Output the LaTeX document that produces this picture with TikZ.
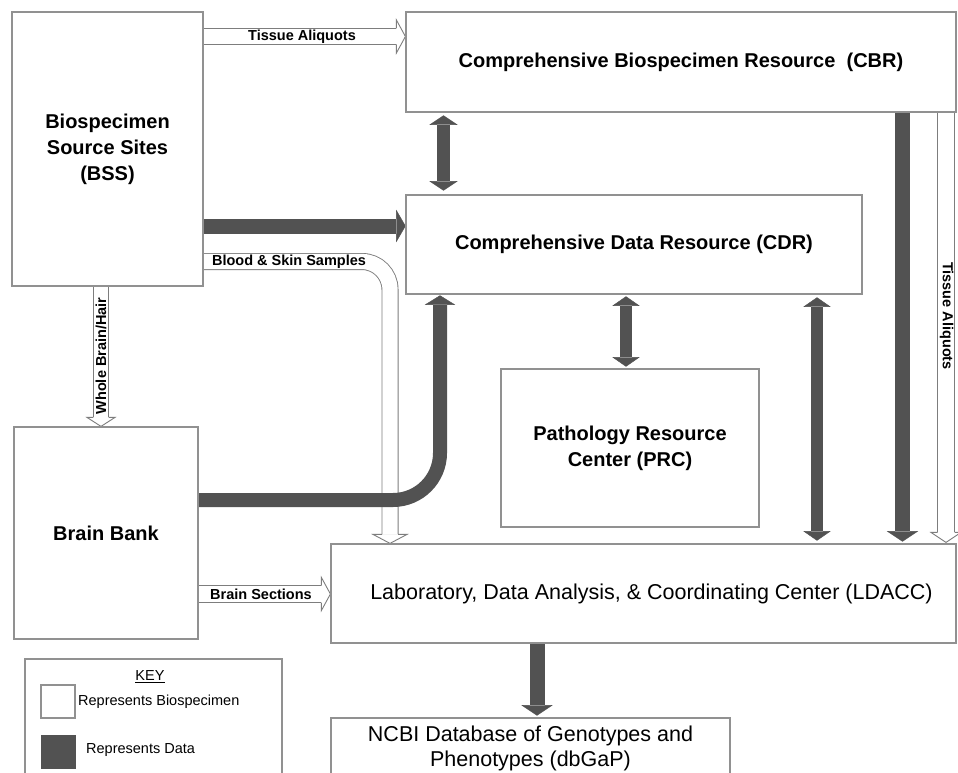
\documentclass[tikz,border=0pt]{standalone}
\usepackage{fontspec}
\setmainfont{Liberation Sans}
\usetikzlibrary{calc}
\pgfdeclarelayer{bg}
\pgfsetlayers{bg,main}
\definecolor{darkc}{RGB}{82,82,82}
\definecolor{boxc}{RGB}{145,145,145}
\definecolor{hollc}{RGB}{125,125,125}
% tip, rotation, style, half shaft, half head, head length
\newcommand\arrhead[6]{\filldraw[#3,shift={(#1)},rotate=#2] (-#6,#4) -- (-#6,#5) -- (0,0) -- (-#6,-#5) -- (-#6,-#4);}
\tikzset{
 box/.style={draw=boxc,line width=1.2pt,fill=white,inner sep=0pt,align=center},
 bigb/.style={font=\fontsize{20}{26}\selectfont\bfseries},
 bigr/.style={font=\fontsize{21.5}{25}\selectfont},
 lab/.style={font=\fontsize{14.5}{16}\selectfont\bfseries,inner sep=0pt},
 keytxt/.style={font=\fontsize{14.5}{16}\selectfont,inner sep=0pt},
 hshaft/.style={draw=hollc,line width=0.9pt,double=white},
 hollowhead/.style={draw=hollc,fill=white,line width=0.9pt,line join=miter},
 dshaft/.style={draw=darkc},
 darkhead/.style={draw=darkc,fill=darkc,line width=0.4pt},
}
\begin{document}
\begin{tikzpicture}[x=1pt,y=-1pt]
\begin{pgfonlayer}{bg}
\fill[white] (0,0) rectangle (958,773);
\end{pgfonlayer}
\path[use as bounding box] (0,0) rectangle (958,773);
\clip (0,0) rectangle (958,773);

% boxes
\node[box,bigb,minimum width=191pt,minimum height=274pt] (bss) at (107.5,149) {Biospecimen\\Source Sites\\(BSS)};
\node[box,bigb,minimum width=550pt,minimum height=100pt] (cbr) at (681,62) {Comprehensive Biospecimen Resource\ \ (CBR)};
\node[box,bigb,minimum width=456pt,minimum height=99pt] (cdr) at (634,244.5) {Comprehensive Data Resource (CDR)};
\node[box,bigb,minimum width=258pt,minimum height=158pt] (prc) at (630,448) {Pathology Resource\\Center (PRC)};
\node[box,bigb,minimum width=184pt,minimum height=212pt] (bb) at (106,533) {Brain Bank};
\node[box,bigr,minimum width=625pt,minimum height=99pt] (ldacc) at (643.5,593.5) {\hspace*{16pt}Laboratory, Data Analysis, \& Coordinating Center (LDACC)};
\node[box,bigr,minimum width=399pt,minimum height=60pt] (db) at (530.5,748) {NCBI Database of Genotypes and\\Phenotypes (dbGaP)};
\node[box,minimum width=257pt,minimum height=120pt] (key) at (153.5,719) {};

% key contents
\node[keytxt] (keyt) at (150,677) {\underline{KEY}};
\node[draw=boxc,line width=1.2pt,fill=white,minimum width=34pt,minimum height=33pt,inner sep=0pt] (keyw) at (58,701.5) {};
\node[draw=darkc,fill=darkc,minimum width=34pt,minimum height=33pt,inner sep=0pt] (keyd) at (58,751.5) {};
\node[keytxt,anchor=west] (keywt) at (78,702) {Represents Biospecimen};
\node[keytxt,anchor=west] (keydt) at (86,750) {Represents Data};

% lane coordinates
\coordinate (ta) at (0,36.5);
\coordinate (dk) at (0,226);
\coordinate (bs) at (0,261.5);
\coordinate (bsx) at (390,0);
\coordinate (wb) at (101,0);
\coordinate (bsec) at (0,594);
\coordinate (bby) at (0,500);
\coordinate (bbx) at (440,0);
\coordinate (c1) at (443.5,0);
\coordinate (c2) at (626,0);
\coordinate (c3) at (817,0);
\coordinate (c4) at (902.5,0);
\coordinate (tar) at (946,0);
\coordinate (c5) at (537,0);

\begin{pgfonlayer}{bg}
% hollow (biospecimen) arrows
\draw[hshaft,double distance=15.2pt] (bss.east |- ta) -- ($(cbr.west |- ta)+(-9,0)$);
\arrhead{cbr.west |- ta}{0}{hollowhead}{8}{16.5}{9}

\draw[hshaft,double distance=15.2pt,rounded corners=28pt] (bss.east |- bs) -- (bsx |- bs) -- ($(bsx |- ldacc.north)+(0,-9)$);
\arrhead{bsx |- ldacc.north}{-90}{hollowhead}{8}{17}{9}

\draw[hshaft,double distance=14.2pt] (wb |- bss.south) -- ($(wb |- bb.north)+(0,-9)$);
\arrhead{wb |- bb.north}{-90}{hollowhead}{7.6}{14}{9}

\draw[hshaft,double distance=16.2pt] (bb.east |- bsec) -- ($(ldacc.west |- bsec)+(-9,0)$);
\arrhead{ldacc.west |- bsec}{0}{hollowhead}{8.5}{16.5}{9}

\draw[hshaft,double distance=16.2pt] (tar |- cbr.south) -- ($(tar |- ldacc.north)+(0,-11)$);
\arrhead{$(tar |- ldacc.north)+(0,-1)$}{-90}{hollowhead}{8.5}{15}{10}

% dark (data) arrows
\draw[dshaft,line width=15pt] (bss.east |- dk) -- ($(cdr.west |- dk)+(-9,0)$);
\arrhead{cdr.west |- dk}{0}{darkhead}{7.5}{15.5}{9}

\draw[dshaft,line width=14pt,rounded corners=47pt] (bb.east |- bby) -- (bbx |- bby) -- ($(bbx |- cdr.south)+(0,10)$);
\arrhead{$(bbx |- cdr.south)+(0,1)$}{90}{darkhead}{7}{14.5}{9}

\draw[dshaft,line width=13pt] ($(c1 |- cbr.south)+(0,12)$) -- ($(c1 |- cdr.north)+(0,-13)$);
\arrhead{$(c1 |- cbr.south)+(0,3)$}{90}{darkhead}{6.5}{13.5}{9}
\arrhead{$(c1 |- cdr.north)+(0,-4)$}{-90}{darkhead}{6.5}{13.5}{9}

\draw[dshaft,line width=12pt] ($(c2 |- cdr.south)+(0,11)$) -- ($(c2 |- prc.north)+(0,-11)$);
\arrhead{$(c2 |- cdr.south)+(0,2)$}{90}{darkhead}{6}{13}{9}
\arrhead{$(c2 |- prc.north)+(0,-2)$}{-90}{darkhead}{6}{13}{9}

\draw[dshaft,line width=12pt] ($(c3 |- cdr.south)+(0,12)$) -- ($(c3 |- ldacc.north)+(0,-12)$);
\arrhead{$(c3 |- cdr.south)+(0,3)$}{90}{darkhead}{6}{13}{9}
\arrhead{$(c3 |- ldacc.north)+(0,-3)$}{-90}{darkhead}{6}{13}{9}

\draw[dshaft,line width=15pt] (c4 |- cbr.south) -- ($(c4 |- ldacc.north)+(0,-12)$);
\arrhead{$(c4 |- ldacc.north)+(0,-2)$}{-90}{darkhead}{7.5}{15}{10}

\draw[dshaft,line width=15pt] (c5 |- ldacc.south) -- ($(c5 |- db.north)+(0,-12)$);
\arrhead{$(c5 |- db.north)+(0,-2)$}{-90}{darkhead}{7.5}{15}{10}
\end{pgfonlayer}

% arrow labels
\node[lab] (lta) at (302,37) {Tissue Aliquots};
\node[lab] (lbs) at (289,261.5) {Blood \& Skin Samples};
\node[lab] (lbsec) at (261,594) {Brain Sections};
\node[lab,rotate=90] (lwb) at (101,356) {Whole Brain/Hair};
\node[lab,rotate=-90] (ltar) at (946.5,316) {Tissue Aliquots};
\end{tikzpicture}
\end{document}
